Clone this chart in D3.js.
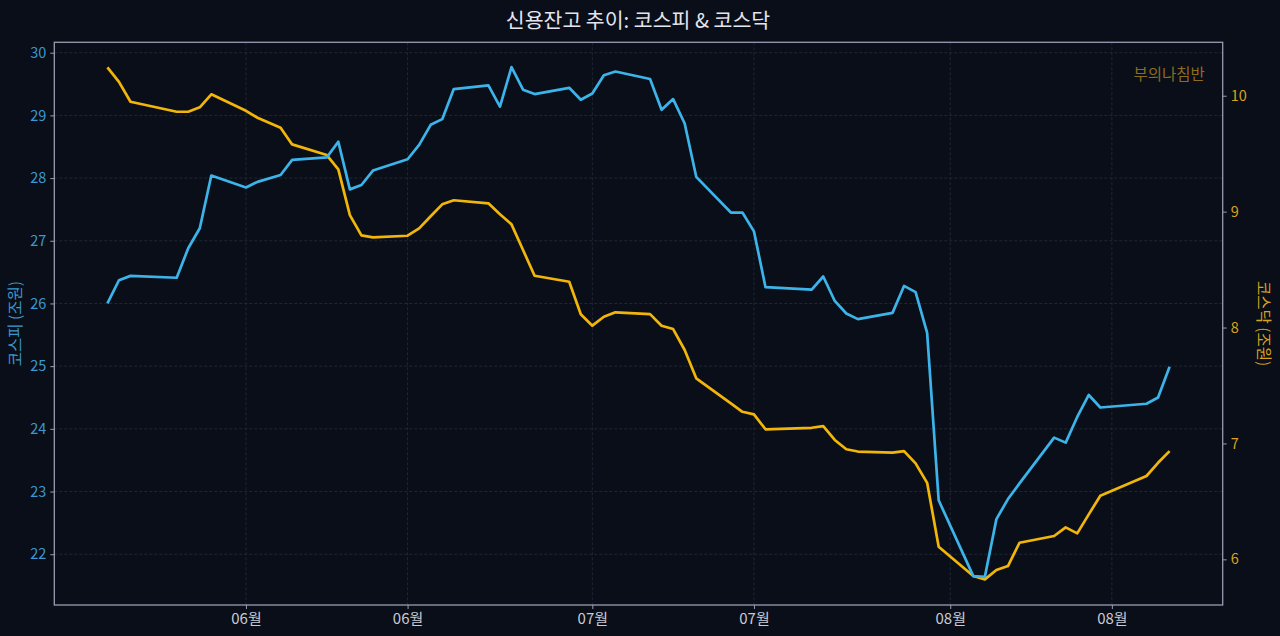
<!DOCTYPE html>
<html>
<head>
<meta charset="utf-8">
<script src="https://cdn.jsdelivr.net/npm/d3@7"></script>
<style>
  html, body { margin: 0; padding: 0; background: #0a0e18; }
  svg { display: block; font-family: "Noto Sans CJK KR", "Noto Sans", sans-serif; }
</style>
</head>
<body>
<svg class="chart" width="1280" height="636"></svg>
<script>

// dates of each reading
const dates = [
  '2025-05-20', '2025-05-21', '2025-05-22', '2025-05-26', '2025-05-27', '2025-05-28', '2025-05-29',
  '2025-06-01', '2025-06-02', '2025-06-04', '2025-06-05', '2025-06-08', '2025-06-09', '2025-06-10',
  '2025-06-11', '2025-06-12', '2025-06-15', '2025-06-16', '2025-06-17', '2025-06-18', '2025-06-19',
  '2025-06-22', '2025-06-23', '2025-06-24', '2025-06-25', '2025-06-26', '2025-06-29', '2025-06-30',
  '2025-07-01', '2025-07-02', '2025-07-03', '2025-07-06', '2025-07-07', '2025-07-08', '2025-07-09',
  '2025-07-10', '2025-07-13', '2025-07-14', '2025-07-15', '2025-07-16', '2025-07-20', '2025-07-21',
  '2025-07-22', '2025-07-23', '2025-07-24', '2025-07-27', '2025-07-28', '2025-07-29', '2025-07-30',
  '2025-07-31', '2025-08-03', '2025-08-04', '2025-08-05', '2025-08-06', '2025-08-07', '2025-08-10',
  '2025-08-11', '2025-08-12', '2025-08-13', '2025-08-14', '2025-08-18', '2025-08-19', '2025-08-20'
];

// 코스피 신용잔고 (조원)
const kospi = [
  26.00, 26.37, 26.44, 26.41, 26.88, 27.20, 28.04,
  27.85, 27.94, 28.05, 28.29, 28.33, 28.58, 27.82,
  27.89, 28.12, 28.30, 28.53, 28.85, 28.94, 29.42,
  29.48, 29.14, 29.77, 29.41, 29.34, 29.44, 29.25,
  29.35, 29.64, 29.70, 29.58, 29.09, 29.26, 28.87,
  28.02, 27.45, 27.45, 27.15, 26.26, 26.22, 26.43,
  26.04, 25.84, 25.75, 25.85, 26.28, 26.18, 25.53,
  22.86, 21.65, 21.64, 22.56, 22.88, 23.13, 23.86,
  23.78, 24.19, 24.54, 24.34, 24.40, 24.50, 24.99
];

// 코스닥 신용잔고 (조원)
const kosdaq = [
  10.245, 10.12, 9.948, 9.862, 9.862, 9.90, 10.012,
  9.87, 9.81, 9.724, 9.58, 9.488, 9.365, 8.97,
  8.795, 8.778, 8.792, 8.856, 8.96, 9.063, 9.098,
  9.072, 8.977, 8.89, 8.669, 8.447, 8.395, 8.114,
  8.016, 8.093, 8.131, 8.116, 8.016, 7.987, 7.806,
  7.562, 7.346, 7.273, 7.251, 7.122, 7.135, 7.15,
  7.03, 6.95, 6.93, 6.92, 6.934, 6.828, 6.66,
  6.109, 5.856, 5.827, 5.908, 5.942, 6.143, 6.201,
  6.276, 6.224, 6.388, 6.549, 6.719, 6.833, 6.934
];

const xTicks = ['2025-06-01', '2025-06-15', '2025-07-01', '2025-07-15', '2025-08-01', '2025-08-15'];
const leftTicks = [22, 23, 24, 25, 26, 27, 28, 29, 30];
const rightTicks = [6, 7, 8, 9, 10];

const texts = {
  title: '신용잔고 추이: 코스피 & 코스닥',
  left: '코스피 (조원)',
  right: '코스닥 (조원)',
  mark: '부의나침반'
};

const colors = {
  bg: '#0a0e18',
  spine: '#9a9cb2',
  grid: '#262d3d',
  kospi: '#3cb4ea',
  kospiText: '#3b98cf',
  kosdaq: '#f2b60a',
  kosdaqText: '#d8a41c',
  xText: '#c9cad4',
  title: '#e4e5ee',
  mark: '#8c6c1e'
};

const W = 1280, H = 636;
const m = { top: 42.3, right: W - 1222.7, bottom: H - 605, left: 54.3 };
const iw = W - m.left - m.right;
const ih = H - m.top - m.bottom;

const parse = d3.utcParse('%Y-%m-%d');
const data = dates.map((d, i) => ({ date: parse(d), a: kospi[i], b: kosdaq[i] }));

// matplotlib style 5% margins on x
const ext = d3.extent(data, d => +d.date);
const pad = (ext[1] - ext[0]) * 0.05;

const x = d3.scaleUtc()
  .domain([new Date(ext[0] - pad), new Date(ext[1] + pad)])
  .range([0, iw]);

const yL = d3.scaleLinear().domain([21.19, 30.166]).range([ih, 0]);
const yR = d3.scaleLinear().domain([5.606, 10.461]).range([ih, 0]);

const svg = d3.select('.chart');

svg.append('rect').attr('width', W).attr('height', H).attr('fill', colors.bg);

const g = svg.append('g').attr('transform', `translate(${m.left},${m.top})`);

// grid
g.append('g')
  .selectAll('line.vgrid')
  .data(xTicks.map(parse))
  .join('line')
  .attr('x1', d => x(d)).attr('x2', d => x(d))
  .attr('y1', 0).attr('y2', ih)
  .attr('stroke', colors.grid)
  .attr('stroke-width', 0.8)
  .attr('stroke-dasharray', '3,2');

g.append('g')
  .selectAll('line.hgrid')
  .data(leftTicks)
  .join('line')
  .attr('x1', 0).attr('x2', iw)
  .attr('y1', d => yL(d)).attr('y2', d => yL(d))
  .attr('stroke', colors.grid)
  .attr('stroke-width', 0.8)
  .attr('stroke-dasharray', '3,2');

// lines
const lineA = d3.line().x(d => x(d.date)).y(d => yL(d.a));
const lineB = d3.line().x(d => x(d.date)).y(d => yR(d.b));

g.append('path')
  .datum(data)
  .attr('d', lineB)
  .attr('fill', 'none')
  .attr('stroke', colors.kosdaq)
  .attr('stroke-width', 2.7)
  .attr('stroke-linejoin', 'round');

g.append('path')
  .datum(data)
  .attr('d', lineA)
  .attr('fill', 'none')
  .attr('stroke', colors.kospi)
  .attr('stroke-width', 2.7)
  .attr('stroke-linejoin', 'round');

// axes
const xAxis = g.append('g')
  .attr('transform', `translate(0,${ih})`)
  .call(d3.axisBottom(x)
    .tickValues(xTicks.map(parse))
    .tickFormat(d3.utcFormat('%m월'))
    .tickSizeOuter(0)
    .tickSize(4)
    .tickPadding(4));

const leftAxis = g.append('g')
  .call(d3.axisLeft(yL)
    .tickValues(leftTicks)
    .tickFormat(d3.format('d'))
    .tickSizeOuter(0)
    .tickSize(4)
    .tickPadding(4));

const rightAxis = g.append('g')
  .attr('transform', `translate(${iw},0)`)
  .call(d3.axisRight(yR)
    .tickValues(rightTicks)
    .tickFormat(d3.format('d'))
    .tickSizeOuter(0)
    .tickSize(4)
    .tickPadding(4));

[xAxis, leftAxis, rightAxis].forEach(a => {
  a.select('.domain').remove();
  a.selectAll('.tick line').attr('stroke', colors.spine);
  a.selectAll('.tick text').attr('font-size', 14.5).attr('font-family', '"Noto Sans CJK KR", sans-serif');
});
xAxis.selectAll('.tick text').attr('fill', colors.xText).attr('font-size', 15);
leftAxis.selectAll('.tick text').attr('fill', colors.kospiText);
rightAxis.selectAll('.tick text').attr('fill', colors.kosdaqText);

// frame
g.append('rect')
  .attr('width', iw).attr('height', ih)
  .attr('fill', 'none')
  .attr('stroke', colors.spine)
  .attr('stroke-width', 1.3);

// texts
svg.append('text')
  .attr('x', 638).attr('y', 19)
  .attr('text-anchor', 'middle')
  .attr('dominant-baseline', 'central')
  .attr('font-size', 20.5)
  .attr('fill', colors.title)
  .text(texts.title);

svg.append('text')
  .attr('transform', `translate(14,${m.top + ih / 2}) rotate(-90)`)
  .attr('text-anchor', 'middle')
  .attr('dominant-baseline', 'central')
  .attr('font-size', 15.5)
  .attr('fill', colors.kospiText)
  .text(texts.left);

svg.append('text')
  .attr('transform', `translate(1265,${m.top + ih / 2}) rotate(90)`)
  .attr('text-anchor', 'middle')
  .attr('dominant-baseline', 'central')
  .attr('font-size', 15.5)
  .attr('fill', colors.kosdaqText)
  .text(texts.right);

svg.append('text')
  .attr('x', m.left + iw - 18).attr('y', 73)
  .attr('text-anchor', 'end')
  .attr('dominant-baseline', 'central')
  .attr('font-size', 15.5)
  .attr('fill', colors.mark)
  .text(texts.mark);

</script>
</body>
</html>
